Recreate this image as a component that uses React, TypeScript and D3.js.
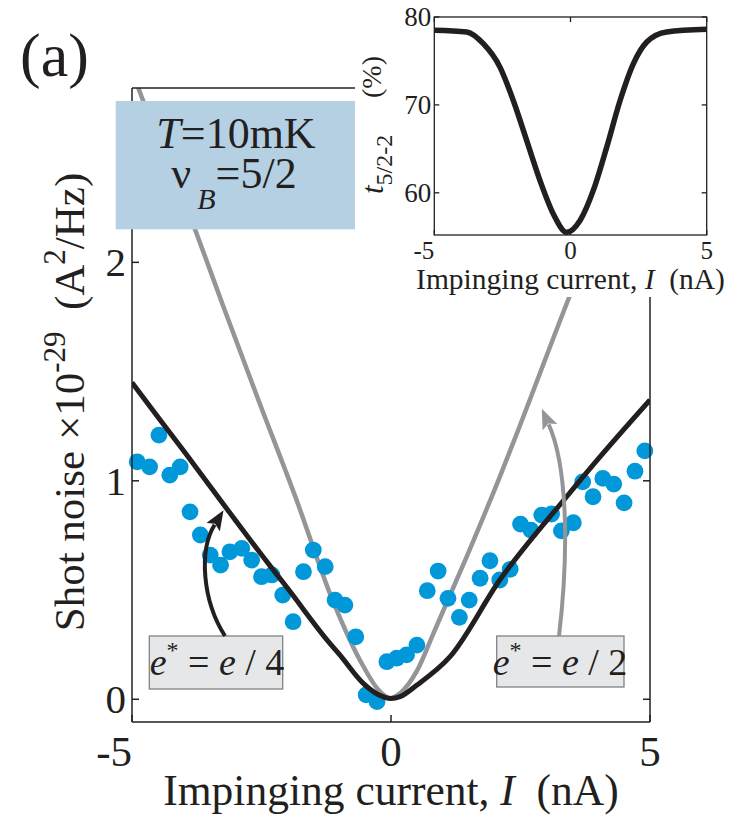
import React from 'react';
import * as d3 from 'd3';

// Measured shot noise (blue dots)
const dataI = [-4.90, -4.66, -4.48, -4.27, -4.07, -3.88, -3.68, -3.49, -3.29, -3.11, -2.88, -2.69, -2.50, -2.30, -2.09, -1.89, -1.69, -1.50, -1.27, -1.08, -0.89, -0.68, -0.48, -0.27, -0.08, 0.11, 0.30, 0.50, 0.70, 0.91, 1.10, 1.32, 1.51, 1.72, 1.91, 2.10, 2.30, 2.50, 2.70, 2.91, 3.10, 3.29, 3.52, 3.70, 3.90, 4.09, 4.30, 4.50, 4.71, 4.90];
const dataS = [1.087, 1.064, 1.209, 1.026, 1.064, 0.858, 0.752, 0.660, 0.614, 0.675, 0.691, 0.637, 0.561, 0.569, 0.477, 0.355, 0.584, 0.683, 0.607, 0.454, 0.431, 0.286, 0.020, -0.011, 0.172, 0.188, 0.203, 0.248, 0.497, 0.587, 0.462, 0.375, 0.454, 0.554, 0.634, 0.546, 0.595, 0.802, 0.774, 0.843, 0.848, 0.771, 0.808, 0.995, 0.927, 1.011, 0.985, 0.899, 1.044, 1.137];

// Theory e* = e/4 (black)
const quarterI = [-5, -4.46, -4, -3, -2.47, -2, -1.18, -1, -0.535, -0.25, 0, 0.174, 0.5, 1.14, 2.1, 3.39, 4, 5];
const quarterS = [1.45, 1.28, 1.136, 0.818, 0.652, 0.509, 0.256, 0.207, 0.073, 0.022, 0.004, 0.012, 0.065, 0.195, 0.546, 0.927, 1.10, 1.37];

// Theory e* = e/2 (grey)
const halfI = [-5, -4.88, -3.75, -3.24, -2.56, -1.82, -1.18, -0.53, -0.25, 0, 0.17, 0.5, 0.82, 1.46, 2.10, 2.46, 3.44, 4, 5];
const halfS = [2.88, 2.80, 2.13, 1.80, 1.37, 0.91, 0.485, 0.149, 0.045, 0.005, 0.027, 0.13, 0.302, 0.652, 1.018, 1.235, 1.84, 2.17, 2.76];

// Inset transmission
const insetI = [-5, -3.81, -3.2, -2.59, -2.1, -1.61, -1.12, -0.63, -0.14, 0.35, 0.84, 1.33, 1.82, 2.31, 2.8, 3.53, 5];
const insetT = [78.5, 78.3, 76.96, 74.3, 70.5, 65.96, 61.4, 57.6, 55.5, 56.85, 60.3, 65.2, 70.5, 74.7, 77.15, 78.3, 78.6];

const mainXTicks = [-5, 0, 5];
const mainYTicks = [0, 1, 2];
const insetXTicks = [-5, 0, 5];
const insetYTicks = [60, 70, 80];

const FONT = "'Liberation Serif','Times New Roman',Times,serif";
const INK = '#231f20';
const BLUE = '#0098d8';
const GREY = '#939598';

export default function App() {
  const W = 747, H = 816;
  const x = d3.scaleLinear().domain([-5, 5]).range([132, 650]);
  const y = d3.scaleLinear().domain([-0.104, 2.798]).range([722, 88]);
  const ix = d3.scaleLinear().domain([-5, 5]).range([434.3, 706.7]);
  const iy = d3.scaleLinear().domain([55.2, 80]).range([235, 17]);

  const mk = (xs: number[], ys: number[], sx: any, sy: any) =>
    d3.line<number>().x((d) => sx(xs[d])).y((d) => sy(ys[d])).curve(d3.curveMonotoneX)(xs.map((_, i) => i)) || '';

  const quarterPath = mk(quarterI, quarterS, x, y);
  const halfPath = mk(halfI, halfS, x, y);
  const insetPath = mk(insetI, insetT, ix, iy);

  const [x0, x1] = x.range();
  const [yb, yt] = y.range();
  const [ix0, ix1] = ix.range();
  const [iyb, iyt] = iy.range();

  return (
    <svg width={W} height={H} style={{ position: 'absolute', left: 0, top: 0, background: '#fff' }} fontFamily={FONT}>
      <defs>
        <clipPath id="plotClip">
          <rect x={x0} y={yt} width={x1 - x0} height={yb - yt} />
        </clipPath>
        <marker id="arrBlack" viewBox="0 0 20 16" refX="3" refY="8" markerWidth="20" markerHeight="16" markerUnits="userSpaceOnUse" orient="auto">
          <path d="M0,0 L20,8 L0,16 L4,8 Z" fill={INK} />
        </marker>
        <marker id="arrGrey" viewBox="0 0 20 16" refX="3" refY="8" markerWidth="20" markerHeight="16" markerUnits="userSpaceOnUse" orient="auto">
          <path d="M0,0 L20,8 L0,16 L4,8 Z" fill={GREY} />
        </marker>
      </defs>

      {/* (a) */}
      <text x={20} y={76} fontSize={62} fill={INK}>(a)</text>

      {/* main curves */}
      <g clipPath="url(#plotClip)">
        <path d={halfPath} fill="none" stroke={GREY} strokeWidth={4.5} />
      </g>
      {dataI.map((v, i) => (
        <circle key={i} cx={x(v)} cy={y(dataS[i])} r={8.4} fill={BLUE} />
      ))}
      <g clipPath="url(#plotClip)">
        <path d={quarterPath} fill="none" stroke={INK} strokeWidth={5} />
      </g>

      {/* main frame */}
      <g stroke={INK} strokeWidth={1.5} fill="none">
        <line x1={x0} y1={yt} x2={x0} y2={yb} />
        <line x1={x0} y1={yb} x2={x1} y2={yb} />
        <line x1={x1} y1={yt} x2={x1} y2={yb} />
        <line x1={x0} y1={yt} x2={x1} y2={yt} />
        {mainYTicks.map((t) => (
          <line key={'yl' + t} x1={x0} y1={y(t)} x2={x0 + 7} y2={y(t)} />
        ))}
        {mainYTicks.map((t) => (
          <line key={'yr' + t} x1={x1} y1={y(t)} x2={x1 - 7} y2={y(t)} />
        ))}
        {mainXTicks.map((t) => (
          <line key={'xb' + t} x1={x(t)} y1={yb} x2={x(t)} y2={yb - 7} />
        ))}
      </g>

      {/* main tick labels */}
      {mainYTicks.map((t) => (
        <text key={'ytl' + t} x={x0 - 6} y={y(t) + 14} fontSize={41} textAnchor="end" fill={INK}>{t}</text>
      ))}
      {mainXTicks.map((t) => (
        <text key={'xtl' + t} x={x(t)} y={766} fontSize={43} textAnchor={t < 0 ? 'end' : 'middle'} fill={INK}>{t < 0 ? '-' + Math.abs(t) : t}</text>
      ))}

      {/* main axis labels */}
      <text x={(x0 + x1) / 2} y={805} fontSize={43.5} textAnchor="middle" fill={INK} style={{ whiteSpace: 'pre' }}>
        Impinging current, <tspan fontStyle="italic">I</tspan>{'  (nA)'}
      </text>
      <text transform={`translate(84, ${(yt + yb) / 2 - 3}) rotate(-90)`} fontSize={43} textAnchor="middle" fill={INK} style={{ whiteSpace: 'pre' }}>
        {'Shot noise \u00d710'}<tspan fontSize={31} dy={-19}>-29</tspan><tspan dy={19}>{'  (A'}</tspan><tspan fontSize={31} dy={-19}>2</tspan><tspan dy={19}>/Hz)</tspan>
      </text>

      {/* T / nu box */}
      <rect x={115.7} y={101} width={239.3} height={128.3} fill="#b5d0e3" />
      <text x={236} y={148} fontSize={44} textAnchor="middle" fill={INK}>
        <tspan fontStyle="italic">T</tspan>=10mK
      </text>
      <text x={234} y={188} fontSize={44} textAnchor="middle" fill={INK}>
        {'\u03bd'}<tspan fontSize={30} fontStyle="italic" dy={21} dx={6}>B</tspan><tspan dy={-21}>=5/2</tspan>
      </text>

      {/* annotation boxes */}
      <rect x={149.3} y={636} width={133.4} height={53} fill="#e6e7e8" stroke="#808285" strokeWidth={1.3} />
      <text x={217} y={675} fontSize={38} textAnchor="middle" fill={INK} style={{ whiteSpace: 'pre' }}>
        <tspan fontStyle="italic">e</tspan><tspan fontSize={24} dy={-17}>*</tspan><tspan dy={17}>{' = '}</tspan><tspan fontStyle="italic">e</tspan>{' / 4'}
      </text>
      <rect x={496.7} y={636} width={127.3} height={51} fill="#e6e7e8" stroke="#808285" strokeWidth={1.3} />
      <text x={560} y={675} fontSize={38} textAnchor="middle" fill={INK} style={{ whiteSpace: 'pre' }}>
        <tspan fontStyle="italic">e</tspan><tspan fontSize={24} dy={-17}>*</tspan><tspan dy={17}>{' = '}</tspan><tspan fontStyle="italic">e</tspan>{' / 2'}
      </text>

      {/* arrows */}
      <path d="M225,636 C202,600 199,550 214.6,524.7" fill="none" stroke={INK} strokeWidth={4} markerEnd="url(#arrBlack)" />
      <path d="M559,636 C568,560 569,470 548.7,424.4" fill="none" stroke={GREY} strokeWidth={4} markerEnd="url(#arrGrey)" />

      {/* inset background */}
      <rect x={355} y={0} width={W - 355} height={297} fill="#fff" />

      {/* inset */}
      <path d={insetPath} fill="none" stroke={INK} strokeWidth={5.5} />
      <g stroke={INK} strokeWidth={1.3} fill="none">
        <rect x={ix0} y={iyt} width={ix1 - ix0} height={iyb - iyt} />
        {insetYTicks.map((t) => (
          <line key={'iyl' + t} x1={ix0} y1={iy(t)} x2={ix0 + 5} y2={iy(t)} />
        ))}
        {insetYTicks.map((t) => (
          <line key={'iyr' + t} x1={ix1} y1={iy(t)} x2={ix1 - 5} y2={iy(t)} />
        ))}
        {insetXTicks.map((t) => (
          <line key={'ixb' + t} x1={ix(t)} y1={iyb} x2={ix(t)} y2={iyb - 5} />
        ))}
        {insetXTicks.map((t) => (
          <line key={'ixt' + t} x1={ix(t)} y1={iyt} x2={ix(t)} y2={iyt + 5} />
        ))}
      </g>
      {insetYTicks.map((t) => (
        <text key={'iytl' + t} x={ix0 - 3} y={iy(t) + 9} fontSize={27} textAnchor="end" fill={INK}>{t}</text>
      ))}
      {insetXTicks.map((t) => (
        <text key={'ixtl' + t} x={ix(t)} y={259} fontSize={25} textAnchor={t < 0 ? 'end' : 'middle'} fill={INK}>{t < 0 ? '-' + Math.abs(t) : t}</text>
      ))}
      <text x={(ix0 + ix1) / 2} y={289} fontSize={29.5} textAnchor="middle" fill={INK} style={{ whiteSpace: 'pre' }}>
        Impinging current, <tspan fontStyle="italic">I</tspan>{'  (nA)'}
      </text>
      <text transform="translate(383, 194) rotate(-90)" fontSize={31} textAnchor="start" fill={INK}>
        <tspan fontStyle="italic">t</tspan><tspan fontSize={24} dy={9}>5/2-2</tspan>
      </text>
      <text transform="translate(381, 98) rotate(-90)" fontSize={28} textAnchor="start" fill={INK}>(%)</text>
    </svg>
  );
}
